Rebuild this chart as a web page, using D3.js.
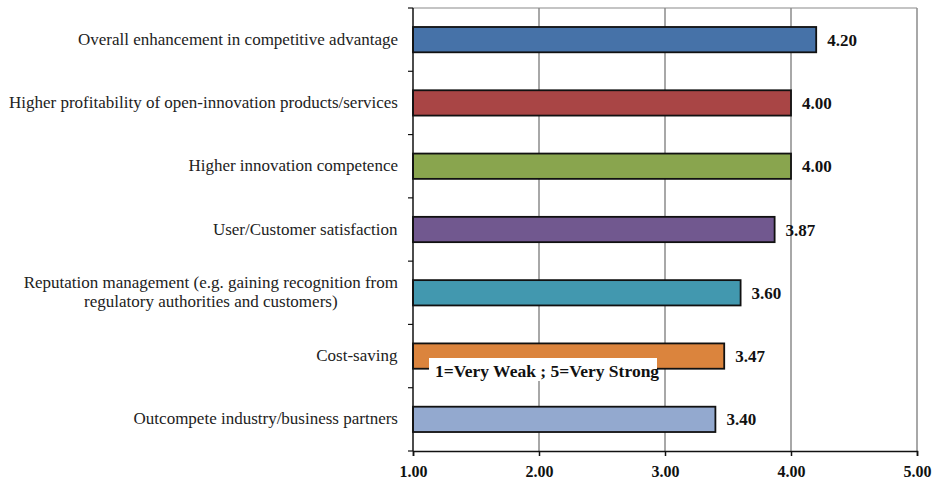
<!DOCTYPE html>
<html>
<head>
<meta charset="utf-8">
<script src="https://cdn.jsdelivr.net/npm/d3@7"></script>
<style>
  body { margin: 0; background: #fff; }
  svg text { font-family: "Liberation Serif", "Times New Roman", serif; }
</style>
</head>
<body>
<div id="viz"></div>
<script>
var categories = [
  ["Overall enhancement in competitive advantage"],
  ["Higher profitability of open-innovation products/services"],
  ["Higher innovation competence"],
  ["User/Customer satisfaction"],
  ["Reputation management (e.g. gaining recognition from", "regulatory authorities and customers)"],
  ["Cost-saving"],
  ["Outcompete industry/business partners"]
];
var values = [4.20, 4.00, 4.00, 3.87, 3.60, 3.47, 3.40];
var colors = ["#4672a8", "#a94545", "#89a54e", "#71588f", "#4298af", "#db843d", "#93a9cf"];
var ticks = [1, 2, 3, 4, 5];
var note = "1=Very Weak ; 5=Very Strong";

var W = 938, H = 481;
var plotL = 413, plotR = 917, plotT = 8, plotB = 451;

var svg = d3.select("#viz").append("svg")
  .attr("width", W)
  .attr("height", H);

var x = d3.scaleLinear().domain([1, 5]).range([plotL, plotR]);
var y = d3.scaleBand().domain(d3.range(categories.length)).range([plotT, plotB]).paddingInner(0.6).paddingOuter(0.3);

// gridlines
svg.append("g").selectAll("line")
  .data(ticks.slice(1))
  .join("line")
  .attr("x1", function(d){ return x(d); })
  .attr("x2", function(d){ return x(d); })
  .attr("y1", plotT)
  .attr("y2", plotB)
  .attr("stroke", "#6e6e6e")
  .attr("stroke-width", 1.2);

// top border
svg.append("line")
  .attr("x1", plotL).attr("x2", plotR)
  .attr("y1", plotT).attr("y2", plotT)
  .attr("stroke", "#8a8a8a").attr("stroke-width", 1.2);

// bars
svg.append("g").selectAll("rect")
  .data(values)
  .join("rect")
  .attr("x", x(1))
  .attr("y", function(d, i){ return y(i); })
  .attr("width", function(d){ return x(d) - x(1); })
  .attr("height", y.bandwidth())
  .attr("fill", function(d, i){ return colors[i]; })
  .attr("stroke", "#111")
  .attr("stroke-width", 1.8);

// value labels
svg.append("g").selectAll("text")
  .data(values)
  .join("text")
  .attr("x", function(d){ return x(d) + 11; })
  .attr("y", function(d, i){ return y(i) + y.bandwidth() / 2 + 6; })
  .attr("font-size", 17)
  .attr("font-weight", "bold")
  .attr("fill", "#111")
  .text(function(d){ return d.toFixed(2); });

// x axis
var xAxis = d3.axisBottom(x).tickValues(ticks).tickFormat(d3.format(".2f")).tickSize(5).tickPadding(10);
var gx = svg.append("g").attr("transform", "translate(0," + plotB + ")").call(xAxis);
gx.select(".domain").attr("stroke", "#111").attr("stroke-width", 1.5);
gx.selectAll(".tick line").attr("stroke", "#111").attr("stroke-width", 1.5);
gx.selectAll("text")
  .attr("font-family", "Liberation Serif, serif")
  .attr("font-size", 16)
  .attr("font-weight", "bold")
  .attr("fill", "#111");

// y axis
var yEdges = d3.range(categories.length + 1).map(function(i){ return plotT + i * (plotB - plotT) / categories.length; });
svg.append("line")
  .attr("x1", plotL).attr("x2", plotL)
  .attr("y1", plotT).attr("y2", plotB)
  .attr("stroke", "#111").attr("stroke-width", 1.5);
svg.append("g").selectAll("line")
  .data(yEdges)
  .join("line")
  .attr("x1", plotL - 5).attr("x2", plotL)
  .attr("y1", function(d){ return d; })
  .attr("y2", function(d){ return d; })
  .attr("stroke", "#111").attr("stroke-width", 1.2);

// category labels
var lab = svg.append("g").selectAll("text")
  .data(categories)
  .join("text")
  .attr("text-anchor", "middle")
  .attr("font-size", 17)
  .attr("fill", "#222")
  .attr("transform", function(d, i){
    var cy = y(i) + y.bandwidth() / 2;
    return "translate(0," + cy + ")";
  });
lab.each(function(lines){
  var t = d3.select(this);
  var n = lines.length;
  lines.forEach(function(s, j){
    t.append("tspan")
      .attr("x", 0)
      .attr("y", (j - (n - 1) / 2) * 19 + 5)
      .text(s);
  });
});
// right-align the block of each label to x=398, lines centred inside
lab.each(function(){
  var b = this.getBBox();
  var t = d3.select(this);
  var cur = t.attr("transform");
  t.attr("transform", cur + " translate(" + (398 - (b.x + b.width)) + ",0)");
});

// scale note
var ng = svg.append("g");
ng.append("rect")
  .attr("x", 429)
  .attr("y", 358)
  .attr("width", 228)
  .attr("height", 23)
  .attr("fill", "#fff");
ng.append("text")
  .attr("x", 435)
  .attr("y", 377)
  .attr("font-size", 17.5)
  .attr("font-weight", "bold")
  .attr("fill", "#111")
  .text(note);
</script>
</body>
</html>
